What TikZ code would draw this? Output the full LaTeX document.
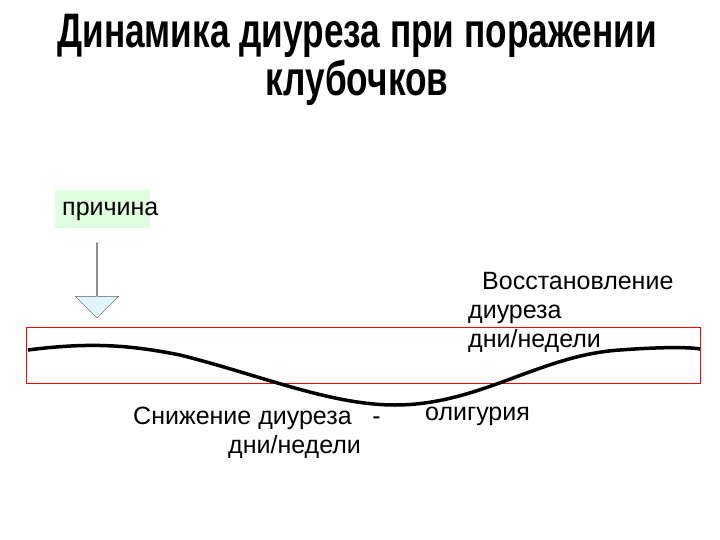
\documentclass[tikz,border=0pt]{standalone}
\usepackage{fontspec}
\setmainfont{Liberation Sans}
\usetikzlibrary{shapes.arrows}
\begin{document}
\begin{tikzpicture}[x=1pt,y=-1pt,
  lbl/.style={font=\fontsize{25}{29}\selectfont, inner sep=0pt}]
\useasboundingbox (0,0) rectangle (720,540);
\node[inner sep=0pt, align=center, font=\fontsize{44}{42}\selectfont\bfseries] (title) at (357,60)
  {\scalebox{0.8}[1.1]{Динамика диуреза при поражении}\\[2pt]\scalebox{0.8}[1.1]{клубочков}};
\node[fill=green!12, minimum width=95pt, minimum height=38pt, inner sep=0pt] (cause) at (102,209) {};
\node[lbl, anchor=west] (causet) at (62,211) {причина};
\node[single arrow, shape border rotate=270, draw=gray!70!black, fill=cyan!12, minimum width=43pt,
  single arrow head extend=6.5pt, single arrow tip angle=90, minimum height=75pt, inner xsep=0pt, inner ysep=15pt] (arr) at (97,280) {};
\node[draw=red, minimum width=674pt, minimum height=56pt, inner sep=0pt] (band) at (363,355) {};
\draw[line width=3.5pt] (28,350) .. controls (90,342) and (130,345) .. (180,355)
  .. controls (260,375) and (330,405) .. (395,405)
  .. controls (480,405) and (540,355) .. (620,350) .. controls (660,347) and (690,347) .. (700,349);
\node[lbl, anchor=north west, align=left] (rec) at (468,272) {\hspace*{14pt}Восстановление\\диуреза\\дни/недели};
\node[lbl, anchor=north west, align=left] (dec) at (133,407) {Снижение диуреза \ \ -\\\hspace*{95pt}дни/недели};
\node[lbl, anchor=north west] (olig) at (425,407) {олигурия};
\end{tikzpicture}
\end{document}
